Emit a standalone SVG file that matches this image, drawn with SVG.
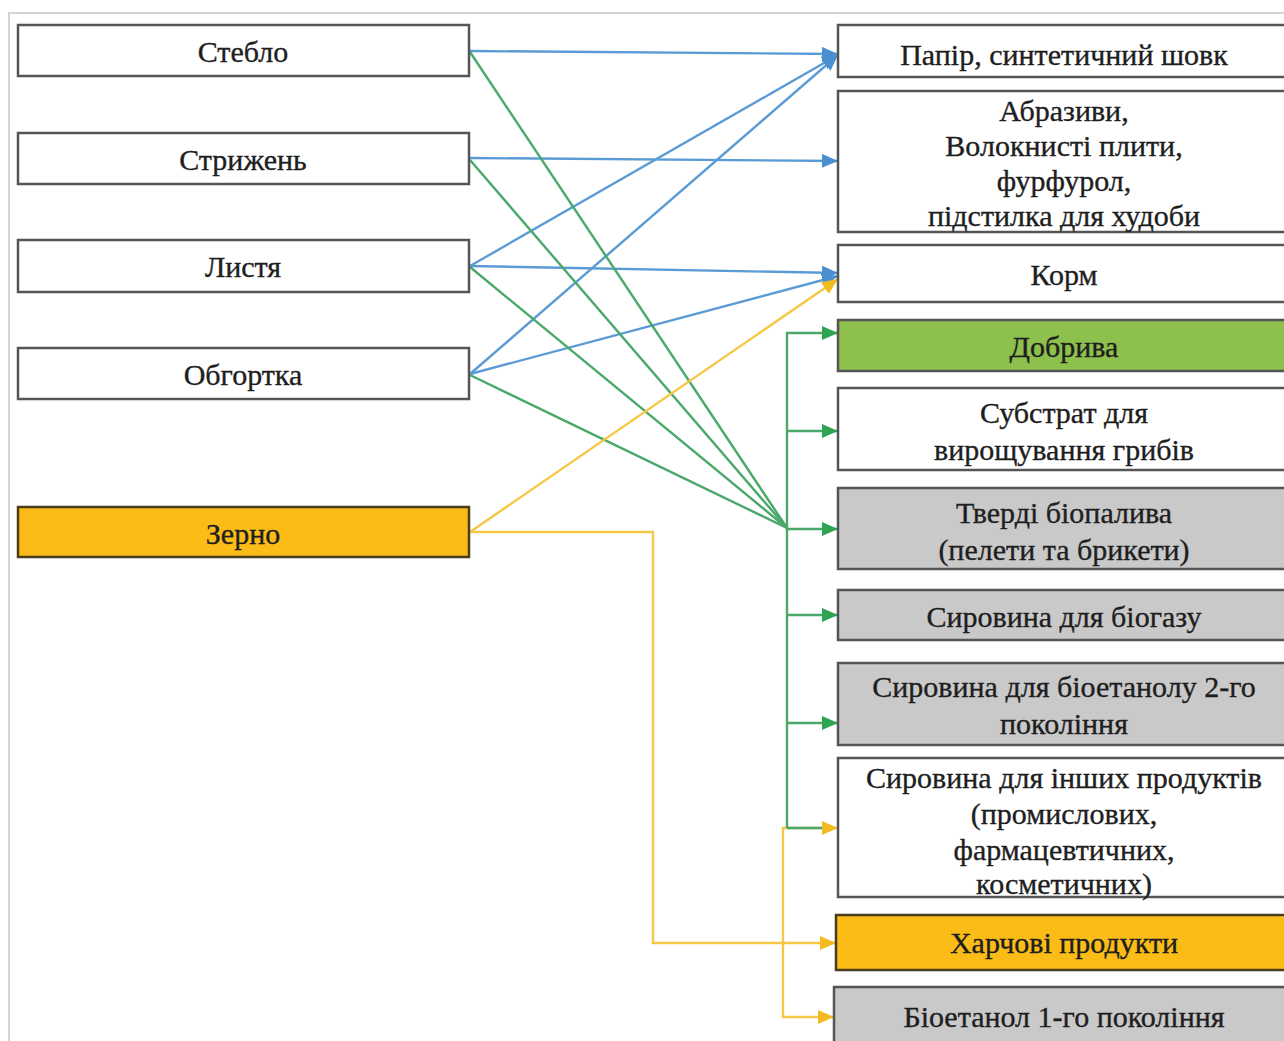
<svg xmlns="http://www.w3.org/2000/svg" width="1284" height="1041" viewBox="0 0 1284 1041">
<style>
.box{stroke:#555;stroke-width:2.5;fill:#fff}
.gray{fill:#c9c9c9}
.green{fill:#8dc04c}
.orange{fill:#fbbc18}
text{font-family:"Liberation Serif","Times New Roman",serif;font-size:30px;fill:#1e1e1e;stroke:#1e1e1e;stroke-width:0.35;text-anchor:middle}
.b{stroke:#5b9bd5;stroke-width:2.4;fill:none}
.g{stroke:#4aa86a;stroke-width:2.4;fill:none}
.y{stroke:#f6c744;stroke-width:2.4;fill:none}
</style>
<defs>
<marker id="ab" markerUnits="userSpaceOnUse" markerWidth="16" markerHeight="14" refX="16" refY="7" orient="auto"><path d="M0,0 L16,7 L0,14 Z" fill="#4a8fd0"/></marker>
<marker id="ag" markerUnits="userSpaceOnUse" markerWidth="16" markerHeight="14" refX="16" refY="7" orient="auto"><path d="M0,0 L16,7 L0,14 Z" fill="#2ea352"/></marker>
<marker id="ay" markerUnits="userSpaceOnUse" markerWidth="16" markerHeight="14" refX="16" refY="7" orient="auto"><path d="M0,0 L16,7 L0,14 Z" fill="#f2bb22"/></marker>
</defs>
<rect x="0" y="0" width="1284" height="1041" fill="#fff"/>
<path d="M9,1041 V13 H1284" fill="none" stroke="#d4d4d4" stroke-width="2"/>

<g id="connectors">
<path class="b" d="M470,51 L838,54" marker-end="url(#ab)"/>
<path class="b" d="M470,158 L838,161" marker-end="url(#ab)"/>
<path class="b" d="M470,266 L838,55" marker-end="url(#ab)"/>
<path class="b" d="M470,266 L838,273" marker-end="url(#ab)"/>
<path class="b" d="M470,374 L838,55" marker-end="url(#ab)"/>
<path class="b" d="M470,374 L838,276" marker-end="url(#ab)"/>
<path class="g" d="M470,52 L787,528"/>
<path class="g" d="M470,160 L787,528"/>
<path class="g" d="M470,267 L787,528"/>
<path class="g" d="M470,375 L787,528"/>
<path class="y" d="M470,532 L838,279" marker-end="url(#ay)"/>
<path class="y" d="M470,532 H653 V943 H836" marker-end="url(#ay)"/>
<path class="y" d="M783,943 V828 H838" marker-end="url(#ay)"/>
<path class="y" d="M783,943 V1017 H834" marker-end="url(#ay)"/>
<path class="g" d="M787,828 V333 H838" marker-end="url(#ag)"/>
<path class="g" d="M787,431 H838" marker-end="url(#ag)"/>
<path class="g" d="M787,529 H838" marker-end="url(#ag)"/>
<path class="g" d="M787,615 H838" marker-end="url(#ag)"/>
<path class="g" d="M787,723 H838" marker-end="url(#ag)"/>
<path class="g" d="M787,828 H822"/>
</g>

<g id="n-steblo"><rect class="box" x="18" y="25" width="451" height="51"/><text x="243" y="62">Стебло</text></g>
<g id="n-stryzhen"><rect class="box" x="18" y="133" width="451" height="51"/><text x="243" y="170">Стрижень</text></g>
<g id="n-lystia"><rect class="box" x="18" y="240" width="451" height="52"/><text x="243" y="277">Листя</text></g>
<g id="n-obhortka"><rect class="box" x="18" y="348" width="451" height="51"/><text x="243" y="385">Обгортка</text></g>
<g id="n-zerno"><rect class="box orange" x="18" y="507" width="451" height="50" style="stroke:#4a3c18"/><text x="243" y="544">Зерно</text></g>

<g id="n-papir"><rect class="box" x="838" y="25" width="460" height="52"/><text x="1064" y="65">Папір, синтетичний шовк</text></g>
<g id="n-abrazyvy"><rect class="box" x="838" y="91" width="460" height="141"/><text x="1064" y="121">Абразиви,</text><text x="1064" y="156">Волокнисті плити,</text><text x="1064" y="191">фурфурол,</text><text x="1064" y="226">підстилка для худоби</text></g>
<g id="n-korm"><rect class="box" x="838" y="245" width="460" height="57"/><text x="1064" y="285">Корм</text></g>
<g id="n-dobryva"><rect class="box green" x="838" y="320" width="460" height="51"/><text x="1064" y="357">Добрива</text></g>
<g id="n-substrat"><rect class="box" x="838" y="388" width="460" height="82"/><text x="1064" y="423">Субстрат для</text><text x="1064" y="460">вирощування грибів</text></g>
<g id="n-tverdi"><rect class="box gray" x="838" y="488" width="460" height="81"/><text x="1064" y="523">Тверді біопалива</text><text x="1064" y="560">(пелети та брикети)</text></g>
<g id="n-biohaz"><rect class="box gray" x="838" y="590" width="460" height="50"/><text x="1064" y="627">Сировина для біогазу</text></g>
<g id="n-bioetanol2"><rect class="box gray" x="838" y="663" width="460" height="82"/><text x="1064" y="697">Сировина для біоетанолу 2-го</text><text x="1064" y="734">покоління</text></g>
<g id="n-inshi"><rect class="box" x="838" y="758" width="460" height="139"/><text x="1064" y="788">Сировина для інших продуктів</text><text x="1064" y="824">(промислових,</text><text x="1064" y="860">фармацевтичних,</text><text x="1064" y="894">косметичних)</text></g>
<g id="n-kharchovi"><rect class="box orange" x="836" y="915" width="462" height="55" style="stroke:#4a3c18"/><text x="1064" y="953">Харчові продукти</text></g>
<g id="n-bioetanol1"><rect class="box gray" x="834" y="987" width="464" height="70"/><text x="1064" y="1027">Біоетанол 1-го покоління</text></g>
</svg>
